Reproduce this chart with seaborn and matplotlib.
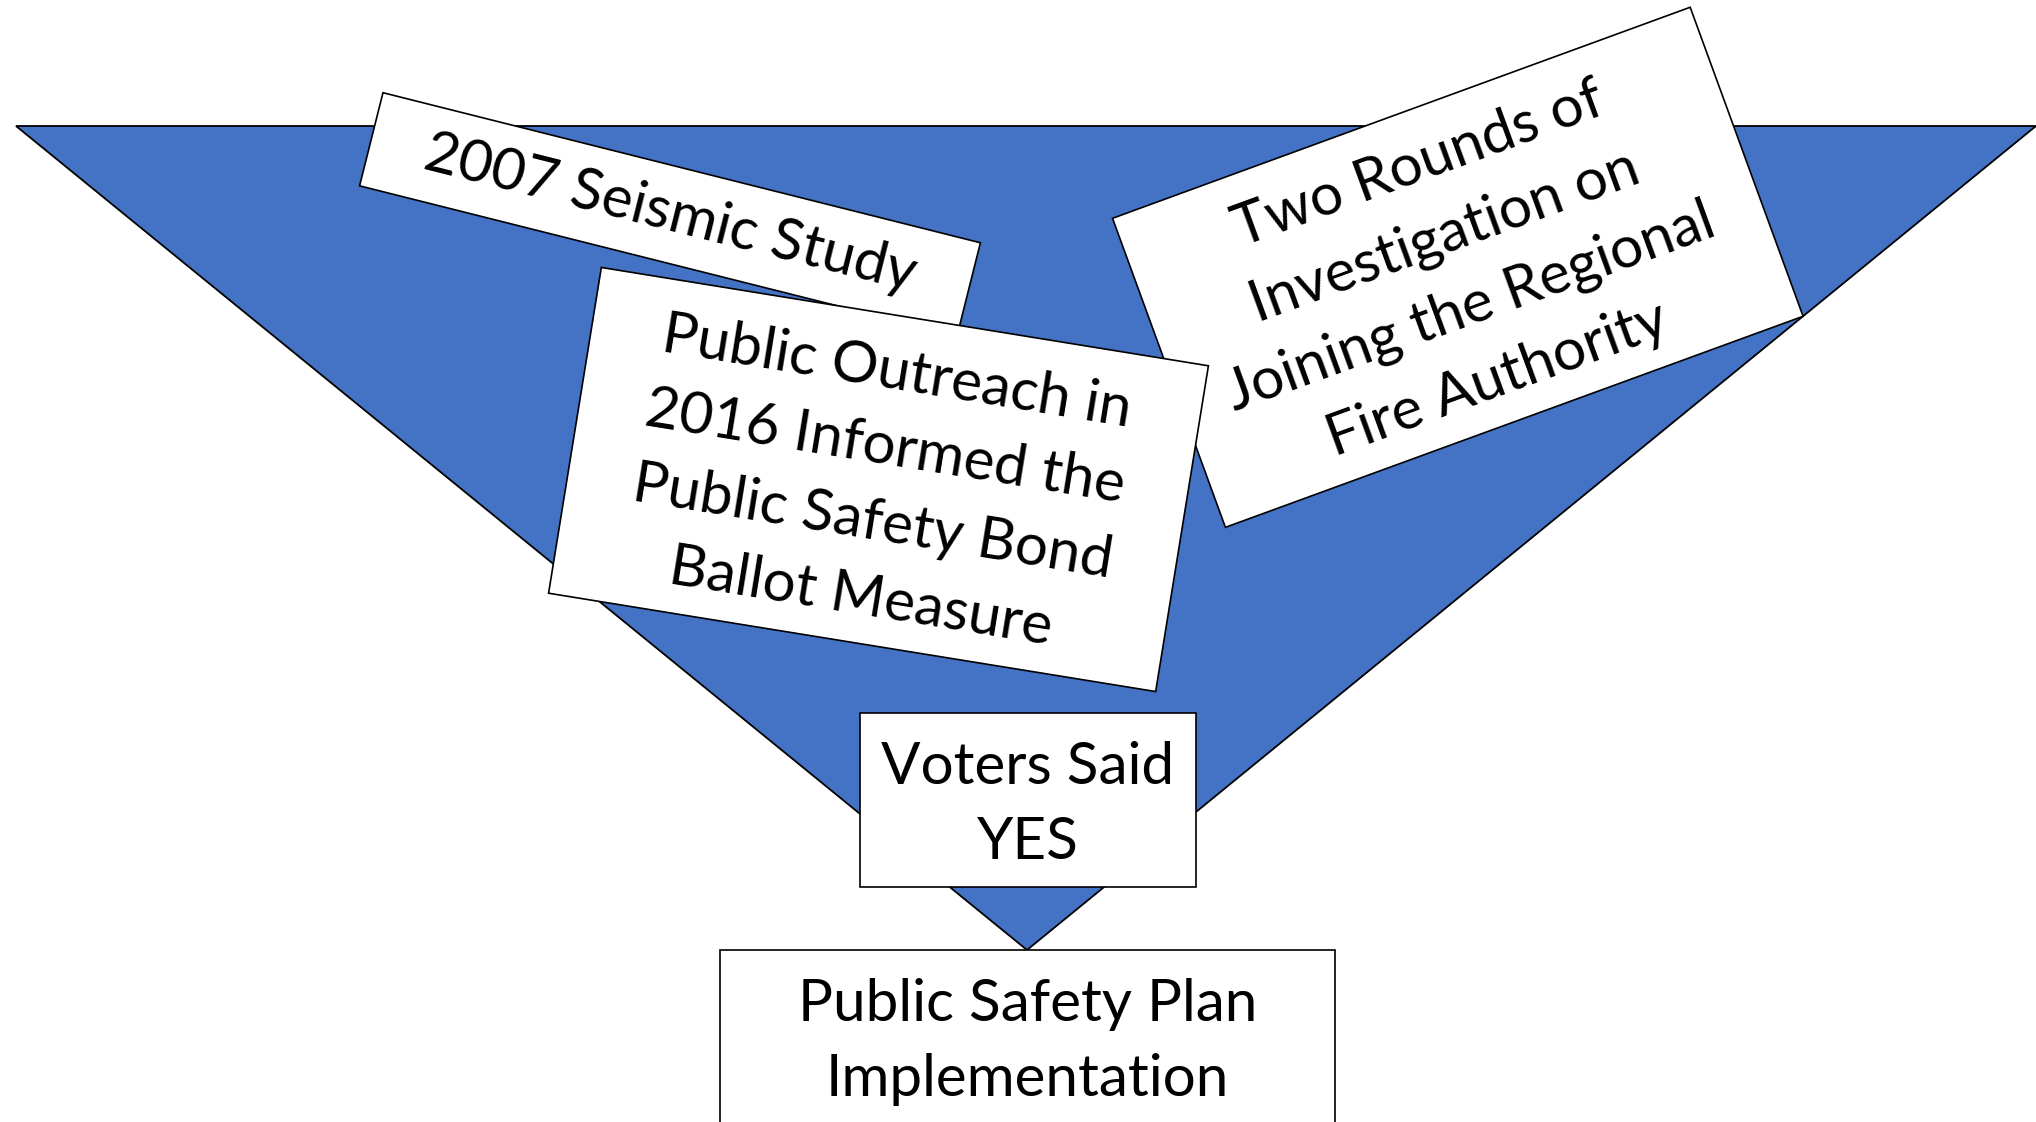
import numpy as np
import matplotlib
matplotlib.use("Agg")
import matplotlib.pyplot as plt
from matplotlib.patches import Polygon
import seaborn as sns

# ---------------- content ----------------
step_labels = [
    "2007 Seismic Study",
    "Two Rounds of\nInvestigation on\nJoining the Regional\nFire Authority",
    "Public Outreach in\n2016 Informed the\nPublic Safety Bond\nBallot Measure",
    "Voters Said\nYES",
    "Public Safety Plan\nImplementation",
]

# ---------------- layout (pixel coordinates, y pointing down) ----------------
funnel_x = [16, 2036, 1027]
funnel_y = [126, 126, 950]

box_cx = [670, 1457.8, 878.5, 1028, 1027.5]
box_cy = [214.3, 267.3, 479.5, 800, 1115]
box_w = [616, 615, 615, 336, 615]
box_h = [96, 329, 330, 174, 330]
box_tilt = [14.1, -20.07, 9.2, 0, 0]       # clockwise, degrees
text_cx = [670, 1457.8, 878.5, 1028, 1027.5]
text_cy = [214, 272, 485, 805, 1042]

W, H = 2036, 1122
funnel_color = "#4472C4"

sns.set_theme(style="white")
plt.rcParams["font.family"] = ["Lato", "DejaVu Sans"]

fig = plt.figure(figsize=(W / 100, H / 100), dpi=100)
ax = fig.add_axes([0, 0, 1, 1])
ax.set_xlim(0, W)
ax.set_ylim(H, 0)
ax.axis("off")
sns.despine(ax=ax, left=True, bottom=True)

# funnel triangle
ax.add_patch(Polygon(np.column_stack([funnel_x, funnel_y]), closed=True,
                     facecolor=funnel_color, edgecolor="black", lw=1.3, zorder=1))


def box_corners(cx, cy, w, h, tilt):
    t = np.deg2rad(tilt)
    u = np.array([np.cos(t), np.sin(t)])
    v = np.array([-np.sin(t), np.cos(t)])
    c = np.array([cx, cy])
    return np.array([c - w / 2 * u - h / 2 * v,
                     c + w / 2 * u - h / 2 * v,
                     c + w / 2 * u + h / 2 * v,
                     c - w / 2 * u + h / 2 * v])


for i, lab in enumerate(step_labels):
    pts = box_corners(box_cx[i], box_cy[i], box_w[i], box_h[i], box_tilt[i])
    ax.add_patch(Polygon(pts, closed=True, facecolor="white", edgecolor="black",
                         lw=1.2, zorder=2 + 2 * i))
    ax.text(text_cx[i], text_cy[i], lab, rotation=-box_tilt[i], rotation_mode="anchor",
            ha="center", va="center", multialignment="center", fontsize=42,
            linespacing=1.53, color="black", zorder=3 + 2 * i)

fig.savefig("out.png", dpi=100)
